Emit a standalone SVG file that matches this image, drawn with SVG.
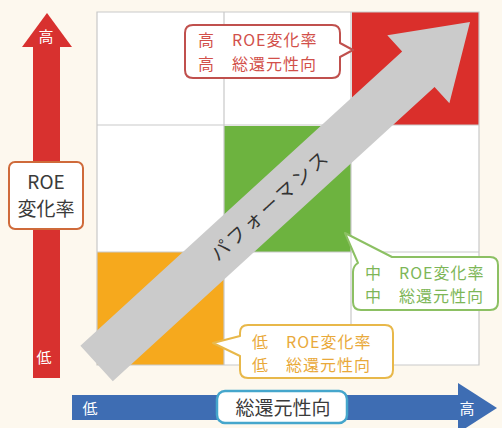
<svg xmlns="http://www.w3.org/2000/svg" width="502" height="428" viewBox="0 0 502 428">
<style>
.jp{font-family:"Noto Sans CJK JP","Noto Sans",sans-serif;}
.grid{stroke:#c9c9c9;stroke-width:1.2;fill:none;}
.call{fill:#ffffff;stroke-width:2;stroke-linejoin:round;}
.ct{font-size:16px;letter-spacing:1px;}
.wt{fill:#ffffff;font-size:15px;text-anchor:middle;}
</style>
<rect x="0" y="0" width="502" height="428" fill="#fdf8ee"/>
<g id="matrix">
  <rect x="97" y="12" width="382" height="353" fill="#ffffff"/>
  <rect x="97" y="252" width="127" height="113" fill="#f6a91d"/>
  <rect x="224" y="126" width="127" height="126" fill="#6db33f"/>
  <rect x="352" y="12" width="127" height="113" fill="#da2f2b"/>
  <path class="grid" d="M97,12H479V365H97Z M224,12V365 M351,12V365 M97,125H479 M97,252H479"/>
</g>
<g id="performance-arrow" transform="translate(470,22) rotate(-42.44)">
  <polygon points="-506,-24 -70,-24 -70,-46 0,0 -70,46 -70,24 -506,24" fill="#cbcbcb"/>
  <text class="jp" x="-271" y="7" text-anchor="middle" font-size="19" letter-spacing="3" fill="#333333">パフォーマンス</text>
</g>
<g id="y-axis">
  <rect x="33" y="46" width="27" height="332" fill="#d8312f"/>
  <polygon points="22,47 47,13 72,47" fill="#d8312f"/>
  <text class="jp wt" x="46" y="42">高</text>
  <text class="jp wt" x="44" y="363">低</text>
  <rect x="9" y="162" width="74" height="67" rx="6" fill="#ffffff" stroke="#cf6a3a" stroke-width="2"/>
  <text class="jp" x="46" y="189" font-size="19" text-anchor="middle" fill="#3a3a3a">ROE</text>
  <text class="jp" x="46" y="216" font-size="19" text-anchor="middle" fill="#3a3a3a">変化率</text>
</g>
<g id="x-axis">
  <rect x="72" y="395" width="388" height="25" fill="#3e6db3"/>
  <polygon points="458,383 497,408 458,433" fill="#3e6db3"/>
  <text class="jp wt" x="90" y="414">低</text>
  <text class="jp wt" x="467" y="414">高</text>
  <rect x="217" y="391" width="130" height="32" rx="8" fill="#ffffff" stroke="#45a6cc" stroke-width="2.5"/>
  <text class="jp" x="283" y="415" font-size="19" text-anchor="middle" fill="#3a3a3a">総還元性向</text>
</g>
<g id="callout-high">
  <path class="call" stroke="#c0504d" d="M193,25H332Q340,25 340,33V43L353,50L340,57V70Q340,78 332,78H193Q185,78 185,70V33Q185,25 193,25Z"/>
  <text class="jp ct" x="198" y="46" fill="#d2504a">高　ROE変化率</text>
  <text class="jp ct" x="198" y="70" fill="#d2504a">高　総還元性向</text>
</g>
<g id="callout-mid">
  <path class="call" stroke="#8cc063" d="M345,233L392,257H490Q498,257 498,265V302Q498,310 490,310H361Q353,310 353,302V272Q353,266 358,263Z"/>
  <text class="jp ct" x="365" y="279" fill="#7db657">中　ROE変化率</text>
  <text class="jp ct" x="365" y="302" fill="#7db657">中　総還元性向</text>
</g>
<g id="callout-low">
  <path class="call" stroke="#e8b84a" d="M213,343L240,336V333Q240,325 248,325H385Q393,325 393,333V370Q393,378 385,378H248Q240,378 240,370V356Z"/>
  <text class="jp ct" x="252" y="348" fill="#e9a93a">低　ROE変化率</text>
  <text class="jp ct" x="252" y="371" fill="#e9a93a">低　総還元性向</text>
</g>
</svg>
